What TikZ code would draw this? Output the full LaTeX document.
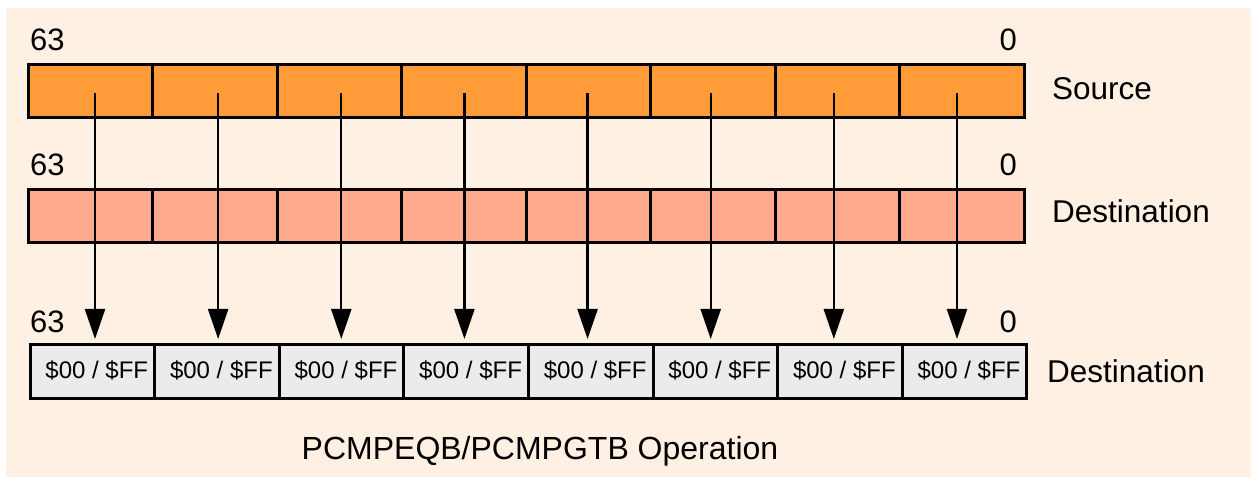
\documentclass[tikz,border=0pt]{standalone}
\usepackage{fontspec}
\setmainfont{Liberation Sans}
\usetikzlibrary{arrows.meta}
\definecolor{bgc}{HTML}{FEF0E3}
\definecolor{srcc}{HTML}{FF9B38}
\definecolor{dstc}{HTML}{FFAA8C}
\definecolor{resc}{HTML}{EBEBEB}
\tikzset{
  cell/.style={draw=black, line width=3pt, minimum width=124.5pt, minimum height=53pt, inner sep=0pt, outer sep=0pt},
  srccell/.style={cell, fill=srcc},
  dstcell/.style={cell, fill=dstc},
  rescell/.style={cell, fill=resc, minimum width=124.6pt, minimum height=54pt},
  restext/.style={inner sep=0pt, anchor=base, font=\fontsize{24}{28}\selectfont},
  num/.style={inner sep=0pt, font=\fontsize{31}{36}\selectfont},
  lbl/.style={inner sep=0pt, font=\fontsize{31.5}{36}\selectfont},
  arr/.style={line width=2.3pt, -{Triangle[length=30pt,width=20pt]}}
}
\begin{document}
\begin{tikzpicture}[x=1pt,y=-1pt]
\path[use as bounding box] (0,0) rectangle (1251,478);
\fill[bgc] (6,8) rectangle (1251,477);
\foreach \i in {1,...,8} {
  \node[srccell] (s\i) at ({28+62.25+124.5*(\i-1)},91.5) {};
  \node[dstcell] (d\i) at ({28+62.25+124.5*(\i-1)},216.5) {};
  \node[rescell] (r\i) at ({30+62.3+124.6*(\i-1)},372) {};
  \node[restext] (t\i) at ({30+62.3+4.5+124.6*(\i-1)},378) {\$00 / \$FF};
}
\foreach \i in {1,...,8} {
  \coordinate (a\i) at ({95+123.14*(\i-1)},93);
  \coordinate (b\i) at ({95+123.14*(\i-1)},339);
  \draw[arr] (a\i) -- (b\i);
}
\node[num, anchor=base west] (h1) at (30,51) {63};
\node[num, anchor=base east] (l1) at (1017,51) {0};
\node[num, anchor=base west] (h2) at (30,176) {63};
\node[num, anchor=base east] (l2) at (1017,176) {0};
\node[num, anchor=base west] (h3) at (30,333) {63};
\node[num, anchor=base east] (l3) at (1017,333) {0};
\node[lbl, anchor=base west] (src) at (1052,100) {Source};
\node[lbl, anchor=base west] (dst) at (1052,223) {Destination};
\node[lbl, anchor=base west] (res) at (1047,383) {Destination};
\node[lbl, anchor=base, font=\fontsize{32}{36}\selectfont] (title) at (540,459) {PCMPEQB/PCMPGTB Operation};
\end{tikzpicture}
\end{document}
